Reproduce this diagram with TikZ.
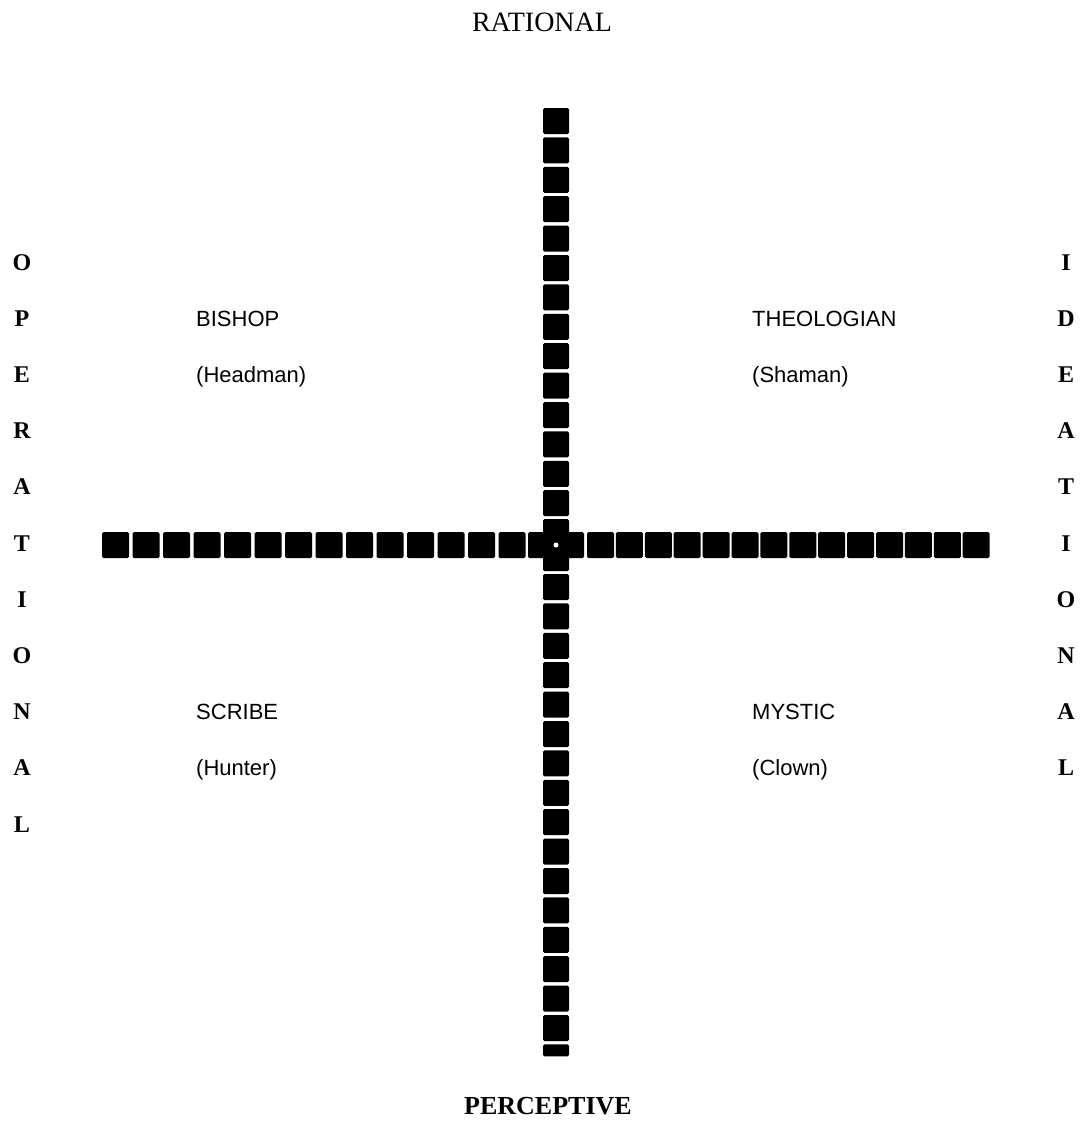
\documentclass[tikz,border=0pt]{standalone}
\usepackage{fontspec}
\setmainfont{Liberation Serif}
\setsansfont{Liberation Sans}
\usetikzlibrary{positioning}

\begin{document}
\begin{tikzpicture}[
    x=1pt, y=-1pt,
    axisname/.style={font=\fontsize{28}{30}\selectfont},
    sideletter/.style={font=\fontsize{24}{26}\selectfont\bfseries,
                       anchor=base},
    role/.style={font=\fontsize{22}{24}\selectfont\sffamily, anchor=west,
                 text height=16pt, text depth=5pt, inner sep=0pt},
    blk/.style={fill=black, rounded corners=1.5pt}
  ]
  \useasboundingbox (0,0) rectangle (1089,1125);

  % poles of the vertical axis
  \node[axisname] (rational) at (542,22) {RATIONAL};
  \node[axisname, font=\fontsize{26}{28}\selectfont\bfseries]
       (perceptive) at (548,1106) {PERCEPTIVE};

  % poles of the horizontal axis, one letter per row
  \foreach \c [count=\k from 0] in {O,P,E,R,A,T,I,O,N,A,L}
    \node[sideletter] (oper-\k) at (22, 270+56.2*\k) {\c};
  \foreach \c [count=\k from 0] in {I,D,E,A,T,I,O,N,A,L}
    \node[sideletter] (idea-\k) at (1066, 270+56.2*\k) {\c};

  % the four roles
  \node[role] (bishop) at (196,321) {BISHOP};
  \node[role, below=56.2pt of bishop.west, anchor=west] (headman) {(Headman)};
  \node[role] (theologian) at (752,321) {THEOLOGIAN};
  \node[role, below=56.2pt of theologian.west, anchor=west] (shaman) {(Shaman)};
  \node[role] (scribe) at (196,714) {SCRIBE};
  \node[role, below=56.2pt of scribe.west, anchor=west] (hunter) {(Hunter)};
  \node[role] (mystic) at (752,714) {MYSTIC};
  \node[role, below=56.2pt of mystic.west, anchor=west] (clown) {(Clown)};

  % vertical axis of blocks
  \foreach \i in {0,...,13}
    \fill[blk] (543, 108+29.4*\i) rectangle ++(26,26);
  \foreach \i in {0,...,15}
    \fill[blk] (543, 574+29.4*\i) rectangle ++(26,26);
  \fill[blk] (543, 574+29.4*16) rectangle ++(26,12);

  % horizontal axis of blocks
  \foreach \i in {0,...,13}
    \fill[blk] (102+30.5*\i, 532) rectangle ++(27,26);
  \foreach \i in {0,...,13}
    \fill[blk] (587+28.9*\i, 532) rectangle ++(27,26);

  % crossing
  \fill[blk] (543,519) rectangle (569,571);
  \fill[blk] (528,532) rectangle (584,558);
  \fill[white] (556,545) circle (2.5);
\end{tikzpicture}
\end{document}
